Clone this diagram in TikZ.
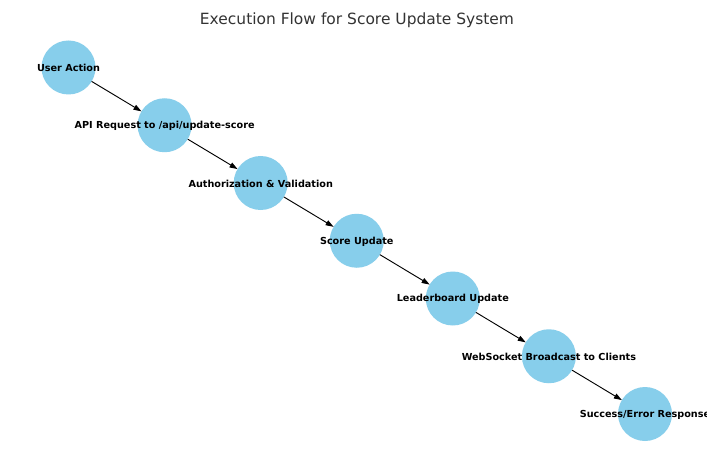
\documentclass[tikz,border=0pt]{standalone}
\usepackage{fontspec}
\setmainfont{DejaVu Sans}
\usetikzlibrary{arrows.meta}
\definecolor{skyblue}{HTML}{87CEEB}
\definecolor{titlegray}{HTML}{333333}
\tikzset{
  flownode/.style={circle, fill=skyblue, minimum size=40.5pt, inner sep=0pt, outer sep=0pt},
  flowlabel/.style={font=\fontsize{7.25pt}{8.5pt}\selectfont\bfseries, text=black, yshift=-0.6pt},
  flowarrow/.style={-{Triangle[length=6pt,width=4pt]}, line width=0.7pt, black}
}
\begin{document}
\begin{tikzpicture}[x=0.75pt,y=-0.75pt]
\useasboundingbox (0,0) rectangle (723,463);
\fill[white] (0,0) rectangle (723,463);
\node[font=\fontsize{11.6pt}{14pt}\selectfont, text=titlegray] (title) at (357,20.5) {Execution Flow for Score Update System};
\begin{scope}
\clip (0,0) rectangle (706.5,463);
\node[flownode] (n1) at (68.5,67.5) {};
\node[flownode] (n2) at (164.6,125.25) {};
\node[flownode] (n3) at (260.7,183) {};
\node[flownode] (n4) at (356.75,240.75) {};
\node[flownode] (n5) at (452.8,298.5) {};
\node[flownode] (n6) at (548.9,356.25) {};
\node[flownode] (n7) at (645,414) {};
\draw[flowarrow] (n1) -- (n2);
\draw[flowarrow] (n2) -- (n3);
\draw[flowarrow] (n3) -- (n4);
\draw[flowarrow] (n4) -- (n5);
\draw[flowarrow] (n5) -- (n6);
\draw[flowarrow] (n6) -- (n7);
\node[flowlabel] (l1) at (n1) {User Action};
\node[flowlabel] (l2) at (n2) {API Request to /api/update-score};
\node[flowlabel] (l3) at (n3) {Authorization \& Validation};
\node[flowlabel] (l4) at (n4) {Score Update};
\node[flowlabel] (l5) at (n5) {Leaderboard Update};
\node[flowlabel] (l6) at (n6) {WebSocket Broadcast to Clients};
\node[flowlabel] (l7) at (n7) {Success/Error Response};
\end{scope}
\end{tikzpicture}
\end{document}
